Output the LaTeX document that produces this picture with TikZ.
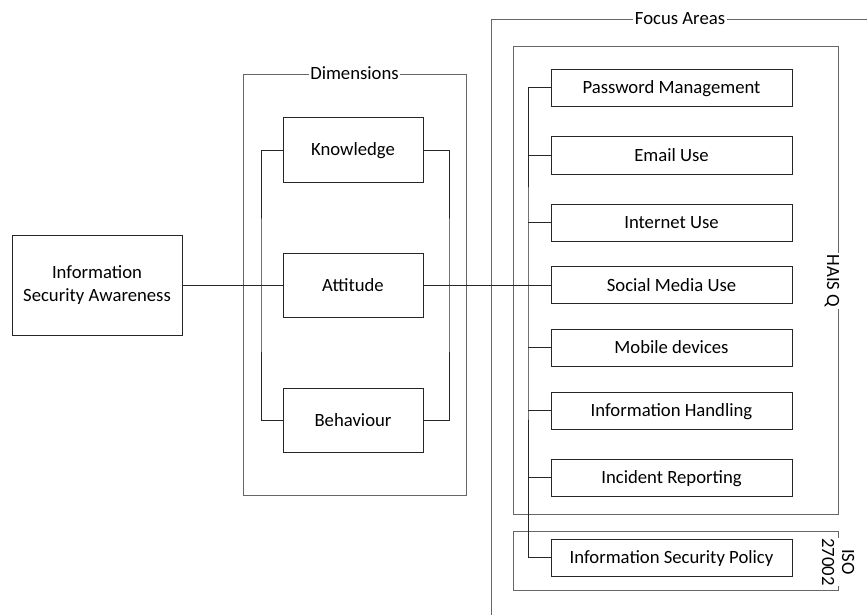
\documentclass[tikz,border=0pt]{standalone}
\usepackage{fontspec}
\setmainfont{Carlito}
\begin{document}
\begin{tikzpicture}[x=1pt,y=-1pt,
  every node/.style={font=\fontsize{18.7}{22.5}\selectfont},
  capsline/.style={text height=12pt,text depth=0pt},
  box/.style={draw=black!85,line width=1pt,minimum width=#1,inner sep=0pt},
  dimbox/.style={box=140pt,minimum height=64pt,capsline},
  areabox/.style={box=241pt,minimum height=37pt,capsline},
  frame/.style={draw=black!60,line width=0.8pt},
  framelabel/.style={fill=white,inner sep=1.5pt},
  link/.style={draw=black!85,line width=1pt}]
\useasboundingbox (0,0) rectangle (867,615);
\clip (0,0) rectangle (867,615);

% grouping frames
\draw[frame] (243,74) rectangle (466,495);
\node[framelabel,capsline] (dimtitle) at (354.5,74) {Dimensions};
\draw[frame] (491,19) rectangle (869,640);
\node[framelabel,capsline] (focustitle) at (680,19) {Focus Areas};
\draw[frame] (513,46) rectangle (838,514);
\node[framelabel,capsline,rotate=-90] (haisq) at (833,281) {HAIS Q};
\draw[frame] (513,531) rectangle (838,590);
\node[framelabel,rotate=-90,align=center,inner sep=0.5pt,
  font=\fontsize{18.7}{20}\selectfont] (iso) at (838,562) {ISO\\27002};

% root concept
\node[box=170pt,minimum height=100pt,align=center] (isa) at (97,285)
  {Information\\Security Awareness};

% dimensions
\node[dimbox] (know) at (353,150) {Knowledge};
\node[dimbox] (att)  at (353,285) {Attitude};
\node[dimbox] (beh)  at (353,420) {Behaviour};

% focus areas
\node[areabox] (pw)   at (671.5,88)    {Password Management};
\node[areabox] (mail) at (671.5,155.5) {Email Use};
\node[areabox] (web)  at (671.5,222.5) {Internet Use};
\node[areabox] (soc)  at (671.5,285)   {Social Media Use};
\node[areabox] (mob)  at (671.5,347.5) {Mobile devices};
\node[areabox] (info) at (671.5,410.5) {Information Handling};
\node[areabox] (inc)  at (671.5,477.5) {Incident Reporting};
\node[areabox] (pol)  at (671.5,557.5) {Information Security Policy};

% bus lines
\coordinate (lbus) at (261,285);
\coordinate (rbus) at (449,285);
\coordinate (fbus) at (528,285);

% connectors
\draw[link] (isa.east) -- (att.west);
\draw[link] (know.west) -| (lbus) |- (beh.west);
\draw[link] (know.east) -| (rbus) |- (beh.east);
\draw[link] (att.east) -- (soc.west);
\draw[link] (pw.west) -| (fbus) |- (pol.west);
\foreach \n in {mail,web,mob,info,inc}
  \draw[link] (\n.west) -- (\n.west -| fbus);
\end{tikzpicture}
\end{document}
